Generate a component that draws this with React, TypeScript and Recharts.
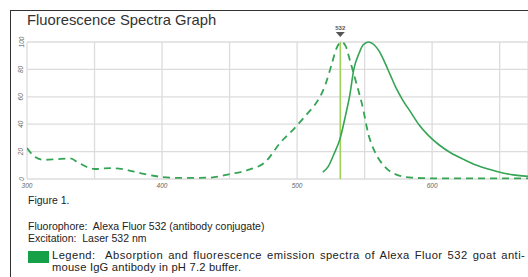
import React from "react";
import {
  LineChart,
  Line,
  XAxis,
  YAxis,
  CartesianGrid,
  ReferenceLine,
} from "recharts";

// absorption spectrum (dashed)
const absWavelengths = [
  300, 306, 312, 322, 332, 338, 345, 350, 362, 372, 385, 400, 415, 435, 450,
  465, 476, 488, 498, 507, 513, 517, 521, 526, 529, 533, 536, 539, 545, 548,
  553, 558, 565, 574, 585, 600, 640, 680,
];
const absValues = [
  22.6, 16, 14, 14.5, 15, 12, 8.5, 7.3, 8, 7, 4, 1.5, 0.8, 1, 3.5, 7, 12, 27,
  37, 47, 54, 60, 69, 85, 95, 100, 97, 87, 66, 55, 32, 19, 9, 3, 1, 0.5, 0.4,
  0.4,
];

// emission spectrum (solid)
const emWavelengths = [
  519, 523, 527, 532, 536, 539, 542, 546, 549, 553, 557, 561, 565, 569, 573,
  578, 584, 590, 597, 605, 614, 624, 633, 648, 660, 680,
];
const emValues = [
  5, 9, 17.5, 30, 47, 61, 80, 92, 98, 100, 98, 93, 85, 76, 67, 58, 49, 40, 32,
  25, 19, 14, 10, 5.5, 3, 1.5,
];

const xTicks = [300, 350, 400, 450, 500, 550, 600, 650];
const yTicks = [0, 10, 20, 30, 40, 50, 60, 70, 80, 90, 100];
const excitation = 532;

const absData = absWavelengths.map((w, i) => ({ nm: w, abs: absValues[i] }));
const emData = emWavelengths.map((w, i) => ({ nm: w, em: emValues[i] }));

const GREEN = "#35a455";
const FONT = "Liberation Sans, Arial, sans-serif";

const XTick = ({ x, payload }: any) =>
  payload.value % 100 === 0 ? (
    <text
      x={x}
      y={188}
      textAnchor="middle"
      fontSize={6.5}
      fontStyle="italic"
      fill="#666"
      fontFamily={FONT}
    >
      {payload.value}
    </text>
  ) : (
    <g />
  );

const YTick = ({ y, payload }: any) =>
  payload.value % 20 === 0 ? (
    <text
      x={21}
      y={y}
      transform={`rotate(-90, 21, ${y})`}
      textAnchor="middle"
      dominantBaseline="central"
      fontSize={6.5}
      fontStyle="italic"
      fill="#666"
      fontFamily={FONT}
    >
      {payload.value}
    </text>
  ) : (
    <g />
  );

const MarkerLabel = (props: any) => {
  const x = props.viewBox.x;
  return (
    <g>
      <text
        x={x}
        y={30}
        textAnchor="middle"
        fontSize={6}
        fontWeight="bold"
        fill="#555"
        fontFamily={FONT}
      >
        {excitation}
      </text>
      <polygon points={`${x - 4.5},32 ${x + 4.5},32 ${x},37`} fill="#555" />
    </g>
  );
};

const txt: React.CSSProperties = {
  position: "absolute",
  left: 28,
  fontFamily: FONT,
  fontSize: 10.5,
  color: "#222",
  whiteSpace: "nowrap",
  lineHeight: "10px",
};

export default function App() {
  return (
    <div
      style={{
        position: "absolute",
        left: 0,
        top: 0,
        width: 528,
        height: 277,
        overflow: "hidden",
        background: "#fff",
      }}
    >
      <div
        style={{
          position: "absolute",
          left: 10,
          top: 10,
          width: 528,
          height: 300,
          borderLeft: "1.5px solid #333",
          borderTop: "1.5px solid #333",
        }}
      />
      <div
        style={{
          position: "absolute",
          left: 27,
          top: 12,
          fontFamily: FONT,
          fontSize: 14.8,
          color: "#333",
          whiteSpace: "nowrap",
        }}
      >
        Fluorescence Spectra Graph
      </div>
      <div style={{ position: "absolute", left: 0, top: 0 }}>
        <LineChart
          width={528}
          height={200}
          margin={{ top: 42, right: 0, bottom: 5, left: 0 }}
        >
          <CartesianGrid stroke="#dcdcdc" strokeWidth={1.3} />
          <XAxis
            dataKey="nm"
            type="number"
            domain={[300, 671]}
            ticks={xTicks}
            allowDataOverflow
            height={16}
            tickLine={false}
            axisLine={false}
            tick={<XTick />}
          />
          <YAxis
            type="number"
            domain={[0, 100]}
            ticks={yTicks}
            width={27}
            tickLine={false}
            axisLine={false}
            tick={<YTick />}
          />
          <ReferenceLine
            x={excitation}
            stroke="#9fd05a"
            strokeWidth={1.6}
            label={MarkerLabel}
          />
          <Line
            data={absData}
            dataKey="abs"
            type="monotone"
            stroke={GREEN}
            strokeWidth={1.8}
            strokeDasharray="7 5"
            dot={false}
            isAnimationActive={false}
          />
          <Line
            data={emData}
            dataKey="em"
            type="monotone"
            stroke={GREEN}
            strokeWidth={1.6}
            dot={false}
            isAnimationActive={false}
          />
        </LineChart>
      </div>
      <div style={{ ...txt, top: 195 }}>Figure 1.</div>
      <div style={{ ...txt, top: 221 }}>
        Fluorophore:&nbsp; Alexa Fluor 532 (antibody conjugate)
      </div>
      <div style={{ ...txt, top: 233 }}>Excitation:&nbsp; Laser 532 nm</div>
      <div
        style={{
          position: "absolute",
          left: 28,
          top: 251,
          width: 21,
          height: 12,
          background: "#16a047",
        }}
      />
      <div
        style={{
          ...txt,
          left: 52,
          top: 250,
          fontSize: 11.2,
          lineHeight: "11.5px",
        }}
      >
        <span style={{ letterSpacing: 0.45, wordSpacing: 1.5 }}>
          Legend:&nbsp; Absorption and fluorescence emission spectra of Alexa
          Fluor 532 goat anti-
        </span>
        <br />
        <span style={{ letterSpacing: 0.2 }}>
          mouse IgG antibody in pH 7.2 buffer.
        </span>
      </div>
    </div>
  );
}
